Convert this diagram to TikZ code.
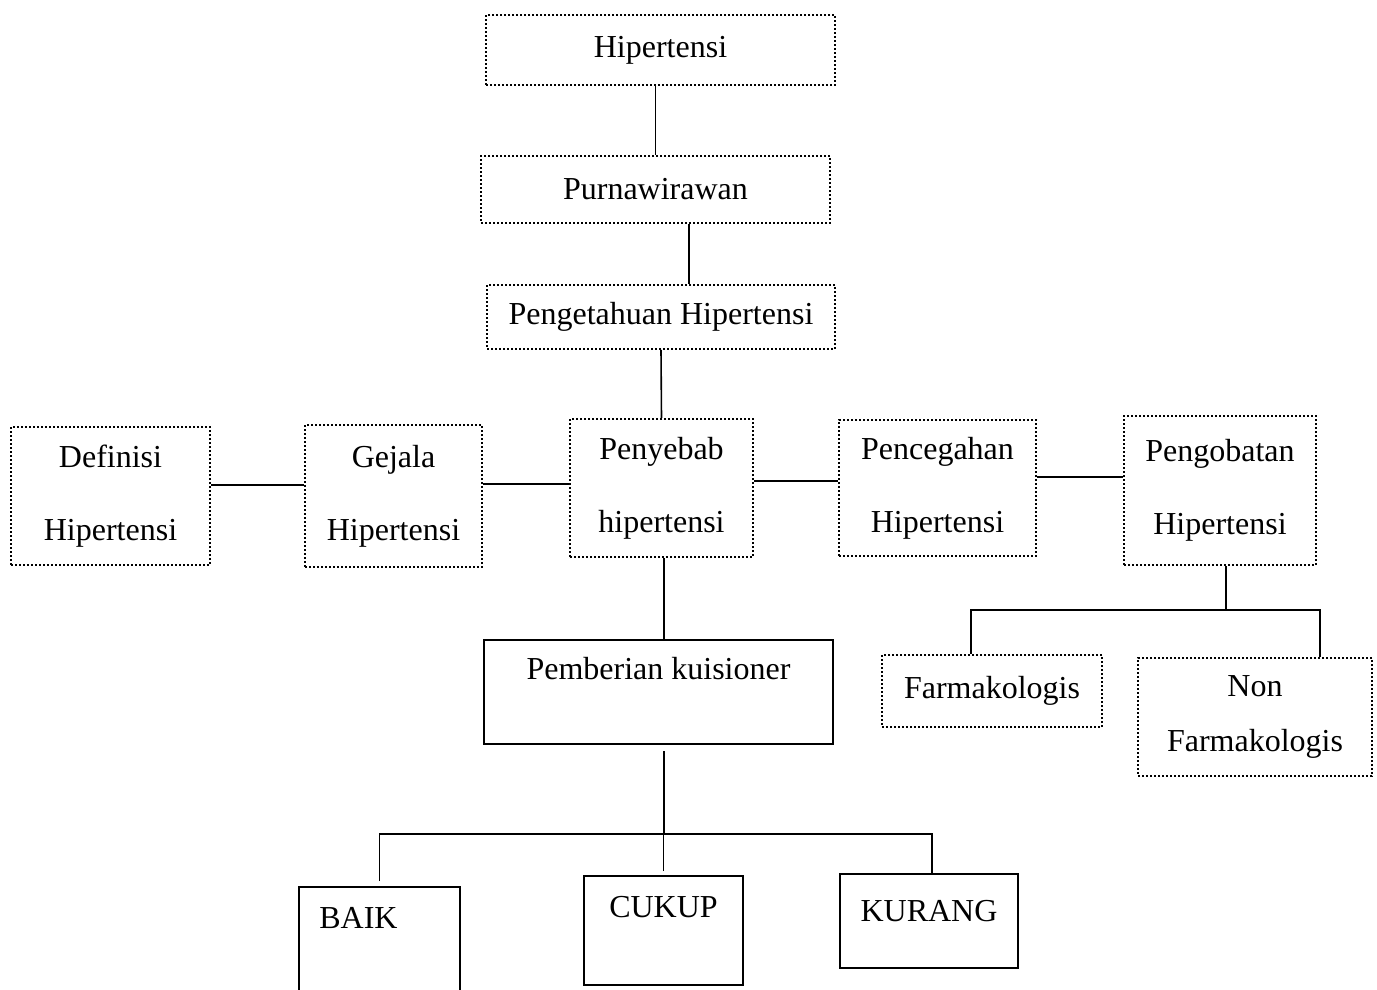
\documentclass[tikz,border=0pt]{standalone}
\usepackage{fontspec}
\setmainfont{Liberation Serif}
\usetikzlibrary{positioning}

\begin{document}
\begin{tikzpicture}[x=0.5pt, y=-0.5pt,
  font=\fontsize{16}{36.5}\selectfont,
  dotbox/.style={draw, line width=1pt, dash pattern=on 1pt off 1pt, align=center, inner sep=0pt},
  solidbox/.style={draw, line width=1pt, align=center, inner sep=0pt},
  link/.style={line width=0.8pt}
  ]
\useasboundingbox (0,0) rectangle (1377,990);
% top chain
\node[dotbox, minimum width=174.5pt, minimum height=35pt] (hip) at (660.5,50) {Hipertensi};
\node[dotbox, minimum width=174.5pt, minimum height=33.5pt] (pur) at (655.5,189.5) {Purnawirawan};
\node[dotbox, minimum width=174pt, minimum height=32pt] (peng) at (661,317) {Pengetahuan Hipertensi};
% middle row
\node[dotbox, minimum width=99.5pt, minimum height=69pt] (def) at (110.5,496) {Definisi\\Hipertensi};
\node[dotbox, minimum width=88.5pt, minimum height=71pt] (gej) at (393.5,496) {Gejala\\Hipertensi};
\node[dotbox, minimum width=91.5pt, minimum height=69pt] (peny) at (661.5,488) {Penyebab\\hipertensi};
\node[dotbox, minimum width=98.5pt, minimum height=68pt] (cegah) at (937.5,488) {Pencegahan\\Hipertensi};
\node[dotbox, minimum width=96pt, minimum height=74.5pt] (obat) at (1220,490.5) {Pengobatan\\Hipertensi};
% treatment
\node[dotbox, minimum width=110pt, minimum height=36pt] (farm) at (992,691) {Farmakologis};
\node[dotbox, minimum width=117pt, minimum height=59pt] (non) at (1255,717) {Non\\[-9pt]Farmakologis};
% questionnaire
\node[solidbox, minimum width=174.5pt, minimum height=52pt, text depth=24pt] (pem) at (658.5,692) {Pemberian kuisioner};
\node[solidbox, minimum width=80.5pt, minimum height=55pt, text depth=24pt] (baik) at (379.5,942) {BAIK\hspace{21pt}};
\node[solidbox, minimum width=79.5pt, minimum height=54.5pt, text depth=24pt] (cukup) at (663.5,930.5) {CUKUP};
\node[solidbox, minimum width=89pt, minimum height=47pt, text depth=10pt] (kur) at (929,921) {KURANG};

% edges
\draw[link] (pur.north) -- (pur.north |- hip.south);
\draw[link] ([xshift=16.75pt]pur.south) -- ([xshift=16.75pt]pur.south |- peng.north);
\draw[link] (peng.south) -- (peny.north);
\draw[link] ([yshift=5.5pt]def.east) -- ([yshift=5.5pt]def.east -| gej.west);
\draw[link] ([yshift=6pt]gej.east) -- ([yshift=6pt]gej.east -| peny.west);
\draw[link] ([yshift=3.5pt]peny.east) -- ([yshift=3.5pt]peny.east -| cegah.west);
\draw[link] ([yshift=5.5pt]cegah.east) -- ([yshift=5.5pt]cegah.east -| obat.west);
\coordinate (jobat) at (1226,610);
\draw[link] (obat.south -| jobat) -- (jobat);
\draw[link] ([xshift=-10.5pt]farm.north) |- (jobat) -| ([xshift=32.5pt]non.north);
\draw[link] ([xshift=2.75pt]pem.north) -- ([xshift=2.75pt]pem.north |- peny.south);
\coordinate (jpem) at (664,834);
\draw[link] ([yshift=-3pt]pem.south -| jpem) -- (jpem);
\draw[link] ([yshift=2.5pt]baik.north) |- (jpem) -| ([xshift=1.5pt]kur.north);
\draw[link] ([yshift=2pt]cukup.north) -- (cukup.north |- jpem);
\end{tikzpicture}
\end{document}
